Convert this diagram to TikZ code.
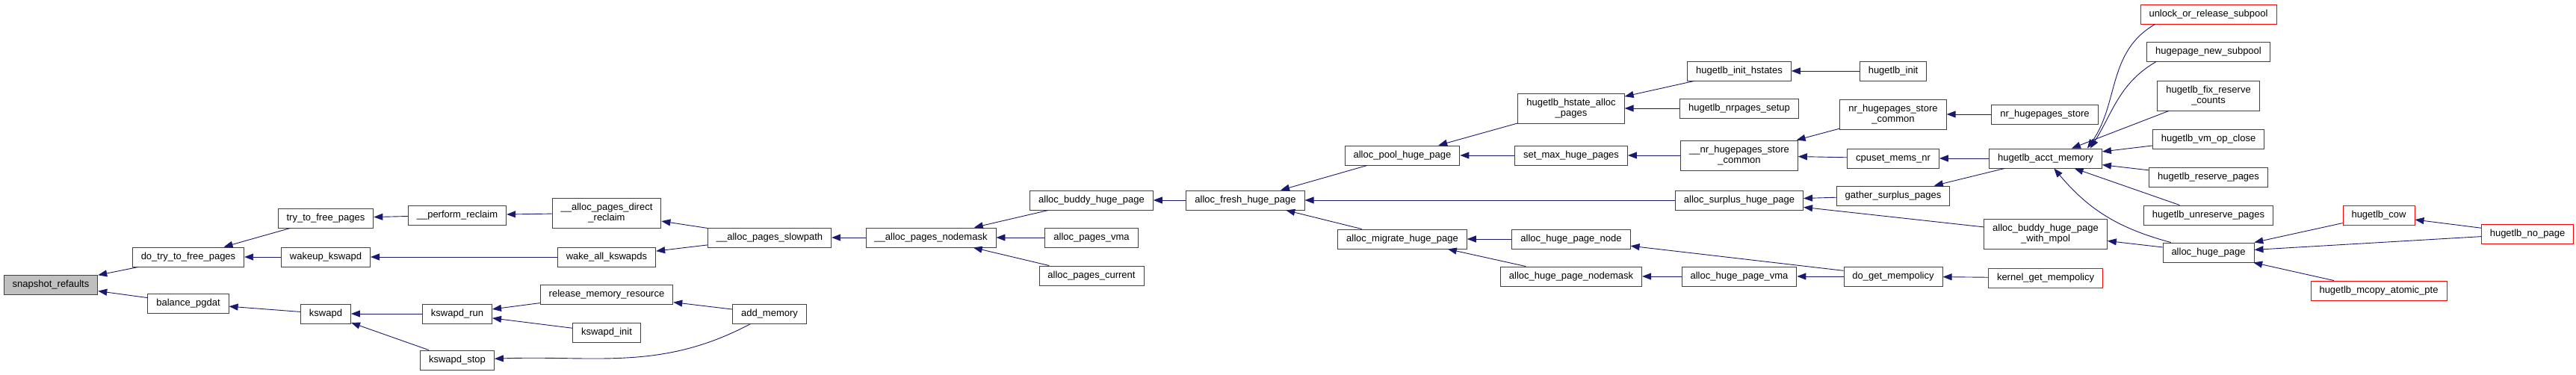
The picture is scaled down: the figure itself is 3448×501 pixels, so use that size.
\documentclass[tikz,border=0pt]{standalone}
\usepackage{fontspec}
\setmainfont{Liberation Sans}
\usepackage{xcolor}
\usepackage{tikz}
\usetikzlibrary{arrows.meta}
\definecolor{midnight}{HTML}{191970}

\begin{document}
\begin{tikzpicture}[
x=1pt, y=1pt,
fnbase/.style={draw=black!75, fill=white, line width=0.9pt, font=\fontsize{13}{14}\selectfont, inner xsep=11.5pt, inner ysep=0pt, align=center},
fnbox/.style={fnbase, minimum height=26pt, text height=9.5pt, text depth=3pt},
fnbox2/.style={fnbase, minimum height=40pt},
rootbox/.style={fnbox, fill=black!25},
redbox/.style={fnbox, draw=red},
arrow/.style={-{Triangle[length=12pt,width=9pt]}, draw=midnight, line width=0.9pt}
]
\useasboundingbox (0,0) rectangle (3448,-501);
\node[rootbox] (snap) at (68,-381) {snapshot\_refaults};
\node[fnbox] (dotry) at (252,-344) {do\_try\_to\_free\_pages};
\node[fnbox] (balance) at (252,-406) {balance\_pgdat};
\node[fnbox] (tryfree) at (436,-292) {try\_to\_free\_pages};
\node[fnbox] (wakeup) at (436,-344) {wakeup\_kswapd};
\node[fnbox] (kswapd) at (436,-420) {kswapd};
\node[fnbox] (perform) at (612,-288) {\_\_perform\_reclaim};
\node[fnbox] (kswapdrun) at (612,-420) {kswapd\_run};
\node[fnbox] (kswapdstop) at (612,-482) {kswapd\_stop};
\node[fnbox2] (directreclaim) at (812,-285) {\_\_alloc\_pages\_direct\\\_reclaim};
\node[fnbox] (wakeall) at (812,-344) {wake\_all\_kswapds};
\node[fnbox] (release) at (812,-394) {release\_memory\_resource};
\node[fnbox] (kswapdinit) at (812,-445) {kswapd\_init};
\node[fnbox] (slowpath) at (1030,-318) {\_\_alloc\_pages\_slowpath};
\node[fnbox] (addmem) at (1030,-420) {add\_memory};
\node[fnbox] (nodemask) at (1246,-318) {\_\_alloc\_pages\_nodemask};
\node[fnbox] (buddy) at (1461,-268) {alloc\_buddy\_huge\_page};
\node[fnbox] (pagesvma) at (1461,-318) {alloc\_pages\_vma};
\node[fnbox] (pagescur) at (1461,-369) {alloc\_pages\_current};
\node[fnbox] (fresh) at (1667,-268) {alloc\_fresh\_huge\_page};
\node[fnbox] (pool) at (1877,-208) {alloc\_pool\_huge\_page};
\node[fnbox] (migrate) at (1877,-320) {alloc\_migrate\_huge\_page};
\node[fnbox2] (hstatealloc) at (2103,-145) {hugetlb\_hstate\_alloc\\\_pages};
\node[fnbox] (setmax) at (2103,-208) {set\_max\_huge\_pages};
\node[fnbox] (hpnode) at (2103,-320) {alloc\_huge\_page\_node};
\node[fnbox] (hpnodemask) at (2103,-370) {alloc\_huge\_page\_nodemask};
\node[fnbox] (inithstates) at (2328,-95) {hugetlb\_init\_hstates};
\node[fnbox] (nrsetup) at (2328,-145) {hugetlb\_nrpages\_setup};
\node[fnbox2] (nrstorecommon) at (2328,-208) {\_\_nr\_hugepages\_store\\\_common};
\node[fnbox] (surplus) at (2328,-268) {alloc\_surplus\_huge\_page};
\node[fnbox] (hpvma) at (2328,-370) {alloc\_huge\_page\_vma};
\node[fnbox] (hugetlbinit) at (2534,-95) {hugetlb\_init};
\node[fnbox2] (storecommon) at (2534,-153) {nr\_hugepages\_store\\\_common};
\node[fnbox] (cpuset) at (2534,-212) {cpuset\_mems\_nr};
\node[fnbox] (gather) at (2534,-262) {gather\_surplus\_pages};
\node[fnbox] (getmempol) at (2534,-370) {do\_get\_mempolicy};
\node[fnbox] (nrstore) at (2737,-153) {nr\_hugepages\_store};
\node[fnbox] (acct) at (2738,-212) {hugetlb\_acct\_memory};
\node[fnbox2] (buddympol) at (2738,-313) {alloc\_buddy\_huge\_page\\\_with\_mpol};
\node[redbox] (kernelget) at (2738,-372) {kernel\_get\_mempolicy};
\node[redbox] (unlock) at (2956,-19) {unlock\_or\_release\_subpool};
\node[fnbox] (newsubpool) at (2956,-69) {hugepage\_new\_subpool};
\node[fnbox2] (fixreserve) at (2956,-128) {hugetlb\_fix\_reserve\\\_counts};
\node[fnbox] (vmclose) at (2956,-186) {hugetlb\_vm\_op\_close};
\node[fnbox] (reserve) at (2956,-237) {hugetlb\_reserve\_pages};
\node[fnbox] (unreserve) at (2956,-288) {hugetlb\_unreserve\_pages};
\node[fnbox] (allochuge) at (2956,-338) {alloc\_huge\_page};
\node[redbox] (cow) at (3184,-288) {hugetlb\_cow};
\node[redbox] (nopage) at (3383,-313) {hugetlb\_no\_page};
\node[redbox] (mcopy) at (3184,-389) {hugetlb\_mcopy\_atomic\_pte};
\draw[arrow] (dotry) -- (snap);
\draw[arrow] (balance) -- (snap);
\draw[arrow] (tryfree) -- (dotry);
\draw[arrow] (wakeup) -- (dotry);
\draw[arrow] (kswapd) -- (balance);
\draw[arrow] (perform) -- (tryfree);
\draw[arrow] (wakeall) -- (wakeup);
\draw[arrow] (kswapdrun) -- (kswapd);
\draw[arrow] (kswapdstop) -- (kswapd);
\draw[arrow] (directreclaim) -- (perform);
\draw[arrow] (slowpath) -- (directreclaim);
\draw[arrow] (slowpath) -- (wakeall);
\draw[arrow] (release) -- (kswapdrun);
\draw[arrow] (kswapdinit) -- (kswapdrun);
\draw[arrow] (addmem) -- (release);
\draw[arrow] (addmem) to[out=-152,in=2] (kswapdstop);
\draw[arrow] (nodemask) -- (slowpath);
\draw[arrow] (buddy) -- (nodemask);
\draw[arrow] (pagesvma) -- (nodemask);
\draw[arrow] (pagescur) -- (nodemask);
\draw[arrow] (fresh) -- (buddy);
\draw[arrow] (pool) -- (fresh);
\draw[arrow] (surplus) -- (fresh);
\draw[arrow] (migrate) -- (fresh);
\draw[arrow] (hstatealloc) -- (pool);
\draw[arrow] (setmax) -- (pool);
\draw[arrow] (hpnode) -- (migrate);
\draw[arrow] (hpnodemask) -- (migrate);
\draw[arrow] (inithstates) -- (hstatealloc);
\draw[arrow] (nrsetup) -- (hstatealloc);
\draw[arrow] (nrstorecommon) -- (setmax);
\draw[arrow] (gather) -- (surplus);
\draw[arrow] (buddympol) -- (surplus);
\draw[arrow] (getmempol) -- (hpnode);
\draw[arrow] (hpvma) -- (hpnodemask);
\draw[arrow] (hugetlbinit) -- (inithstates);
\draw[arrow] (storecommon) -- (nrstorecommon);
\draw[arrow] (cpuset) -- (nrstorecommon);
\draw[arrow] (getmempol) -- (hpvma);
\draw[arrow] (nrstore) -- (storecommon);
\draw[arrow] (acct) -- (cpuset);
\draw[arrow] (acct) -- (gather);
\draw[arrow] (kernelget) -- (getmempol);
\draw[arrow] (allochuge) -- (buddympol);
\draw[arrow] ([xshift=20pt]unlock.south west) to[out=-150,in=55] ([xshift=-20pt]acct.north east);
\draw[arrow] ([xshift=13pt]newsubpool.south west) to[out=-150,in=58] ([xshift=-16pt]acct.north east);
\draw[arrow] (fixreserve) -- (acct);
\draw[arrow] (vmclose) -- (acct);
\draw[arrow] (reserve) -- (acct);
\draw[arrow] (unreserve) -- (acct);
\draw[arrow] (allochuge) to[out=165,in=-50] (acct);
\draw[arrow] (cow) -- (allochuge);
\draw[arrow] (nopage) -- (allochuge);
\draw[arrow] (mcopy) -- (allochuge);
\draw[arrow] (nopage) -- (cow);
\end{tikzpicture}
\end{document}
